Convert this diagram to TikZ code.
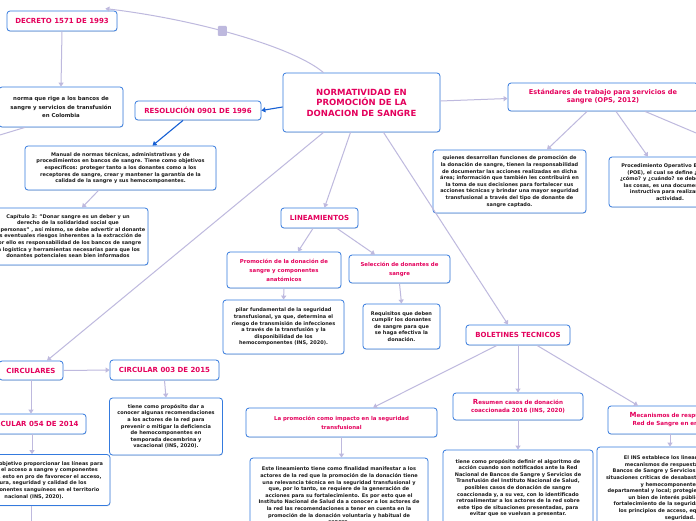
\documentclass[tikz,border=0pt]{standalone}
\usepackage{fontspec}
\setmainfont{DejaVu Sans}
\usetikzlibrary{positioning,arrows.meta,shadows}

\definecolor{borde}{RGB}{52,122,222}
\definecolor{conector}{RGB}{190,185,222}
\definecolor{titulo}{RGB}{228,0,92}
\definecolor{azul}{RGB}{22,96,212}
\definecolor{cuerpo}{RGB}{28,28,28}

\begin{document}
\begin{tikzpicture}[x=1pt,y=-1pt,
	caja/.style={draw=borde,line width=0.8pt,rounded corners=3pt,fill=white,align=center,inner sep=1pt,
		drop shadow={shadow xshift=0.4pt,shadow yshift=-0.8pt,opacity=0.2}},
	tema/.style={caja,text=titulo,font=\bfseries\fontsize{7}{8.5}\selectfont},
	grande/.style={caja,text=titulo,font=\bfseries\fontsize{8.5}{10.5}\selectfont},
	subt/.style={caja,text=titulo,font=\bfseries\fontsize{5.4}{9}\selectfont},
	texto/.style={caja,text=cuerpo,font=\bfseries\fontsize{5}{6.6}\selectfont},
	enlace/.style={draw=conector,line width=1pt,-{Triangle[width=5pt,length=4pt]}},
	enlaceazul/.style={draw=azul,line width=1.1pt,-{Triangle[width=5pt,length=4pt]}}]
	\useasboundingbox (0,0) rectangle (696,520);
	\fill[white] (0,0) rectangle (696,520);
	\begin{scope}
	\clip (0,0) rectangle (696,520);

	% centro
	\node[grande, minimum width=157pt, minimum height=59pt] (principal) at (361.5,102.5) {NORMATIVIDAD EN\\PROMOCIÓN DE LA\\DONACION DE SANGRE};

	% rama izquierda
	\node[tema, minimum width=110pt, minimum height=20pt] (decreto) at (62,21) {DECRETO 1571 DE 1993};
	\node[texto, font=\bfseries\fontsize{5.4}{8.7}\selectfont, minimum width=124pt, minimum height=40pt] (norma) at (61,107) {norma que rige a los bancos de\\sangre y servicios de transfusión\\en Colombia};
	\node[tema, minimum width=126pt, minimum height=19pt] (resolucion) at (198,110.5) {RESOLUCIÓN 0901 DE 1996};
	\node[texto, minimum width=191pt, minimum height=44pt] (manual) at (120.5,168) {Manual de normas técnicas, administrativas y de\\procedimientos en bancos de sangre. Tiene como objetivos\\específicos: proteger tanto a los donantes como a los\\receptores de sangre, crear y mantener la garantía de la\\calidad de la sangre y sus hemocomponentes.};
	\node[texto, minimum width=160pt, minimum height=57pt] (capitulo) at (68,236.5) {Capítulo 3: "Donar sangre es un deber y un\\derecho de la solidaridad social que\\las personas" , así mismo, se debe advertir al donante\\los eventuales riesgos inherentes a la extracción de\\por ello es responsabilidad de los bancos de sangre\\la logística y herramientas necesarias para que los\\donantes potenciales sean bien informados};

	% lineamientos
	\node[tema, minimum width=77pt, minimum height=20pt] (lineamientos) at (319.5,218) {LINEAMIENTOS};
	\node[subt, minimum width=114pt, minimum height=36pt] (promocion) at (284,270) {Promoción de la donación de\\sangre y componentes\\anatómicos};
	\node[subt, minimum width=101pt, minimum height=28pt] (seleccion) at (399.5,269) {Selección de donantes de\\sangre};
	\node[texto, minimum width=121pt, minimum height=54pt] (pilar) at (283.5,327) {pilar fundamental de la seguridad\\transfusional, ya que, determina el\\riesgo de transmisión de infecciones\\a través de la transfusión y la\\disponibilidad de los\\hemocomponentes (INS, 2020).};
	\node[texto, minimum width=77pt, minimum height=45pt] (requisitos) at (401.5,326.5) {Requisitos que deben\\cumplir los donantes\\de sangre para que\\se haga efectiva la\\donación.};

	% estandares
	\node[caja, text=titulo, font=\bfseries\fontsize{6.6}{8}\selectfont, minimum width=190pt, minimum height=28pt] (estandares) at (603,97) {Estándares de trabajo para servicios de\\sangre (OPS, 2012)};
	\node[texto, minimum width=153pt, minimum height=63pt] (quienes) at (509.5,181.5) {quienes desarrollan funciones de promoción de\\la donación de sangre, tienen la responsabilidad\\de documentar las acciones realizadas en dicha\\área; información que también les contribuirá en\\la toma de sus decisiones para fortalecer sus\\acciones técnicas y brindar una mayor seguridad\\transfusional a través del tipo de donante de\\sangre captado.};
	\node[texto, minimum width=122pt, minimum height=50pt] (poe) at (670,182) {Procedimiento Operativo Estándar\\(POE), el cual se define ¿qué?,\\¿cómo? y ¿cuándo? se deben hacer\\las cosas, es una documentación\\instructiva para realizar una\\actividad.};

	% circulares
	\node[tema, minimum width=64pt, minimum height=19pt] (circulares) at (31,370.5) {CIRCULARES};
	\node[tema, minimum width=109pt, minimum height=20pt] (circ003) at (164.5,370) {CIRCULAR 003 DE 2015};
	\node[texto, minimum width=113pt, minimum height=57pt] (tiene003) at (166,426.5) {tiene como propósito dar a\\conocer algunas recomendaciones\\a los actores de la red para\\prevenir o mitigar la deficiencia\\de hemocomponentes en\\temporada decembrina y\\vacacional (INS, 2020).};
	\node[tema, minimum width=106pt, minimum height=20pt] (circ054) at (33,424) {CIRCULAR 054 DE 2014};
	\node[texto, minimum width=152pt, minimum height=51pt] (objetivo) at (34,480) {Tiene como objetivo proporcionar las líneas para\\garantizar el acceso a sangre y componentes\\anatómicos, esto en pro de favorecer el acceso,\\cobertura, seguridad y calidad de los\\hemocomponentes sanguíneos en el territorio\\nacional (INS, 2020).};

	% boletines
	\node[tema, minimum width=104pt, minimum height=20pt] (boletines) at (518,335) {BOLETINES TECNICOS};
	\node[subt, minimum width=191pt, minimum height=29pt] (lapromocion) at (341.5,422.5) {La promoción como impacto en la seguridad\\transfusional};
	\node[texto, minimum width=178pt, minimum height=76pt] (este) at (339,496) {Este lineamiento tiene como finalidad manifestar a los\\actores de la red que la promoción de la donación tiene\\una relevancia técnica en la seguridad transfusional y\\que, por lo tanto, se requiere de la generación de\\acciones para su fortalecimiento. Es por esto que el\\Instituto Nacional de Salud da a conocer a los actores de\\la red las recomendaciones a tener en cuenta en la\\promoción de la donación voluntaria y habitual de\\sangre.};
	\node[subt, font=\bfseries\fontsize{5.6}{8}\selectfont, minimum width=130pt, minimum height=27pt] (resumen) at (518,406.5) {{\fontsize{7}{8}\selectfont R}esumen casos de donación\\coaccionada 2016 (INS, 2020)};
	\node[texto, minimum width=150pt, minimum height=76pt] (tieneres) at (518,488) {tiene como propósito definir el algoritmo de\\acción cuando son notificados ante la Red\\Nacional de Bancos de Sangre y Servicios de\\Transfusión del Instituto Nacional de Salud,\\posibles casos de donación de sangre\\coaccionada y, a su vez, con lo identificado\\retroalimentar a los actores de la red sobre\\este tipo de situaciones presentadas, para\\evitar que se vuelvan a presentar.};
	\node[subt, font=\bfseries\fontsize{5.6}{8}\selectfont, minimum width=144pt, minimum height=28pt] (mecanismos) at (680,420) {{\fontsize{7}{8}\selectfont M}ecanismos de respuesta de la\\Red de Sangre en emergencia};
	\node[texto, minimum width=166pt, minimum height=82pt] (elins) at (680,488) {El INS establece los lineamientos de los\\mecanismos de respuesta de la Red de\\Bancos de Sangre y Servicios de Transfusión en\\situaciones críticas de desabastecimiento de sangre\\y hemocomponentes a nivel\\departamental y local; protegiendo la sangre como\\un bien de interés público social y el\\fortalecimiento de la seguridad transfusional y\\los principios de acceso, equidad, calidad y\\seguridad.};

	% ramas que salen del cuadro
	\coordinate (fueraA) at (-30,144);
	\coordinate (fueraB) at (760,160);
	\coordinate (fueraC) at (31,540);

	% conectores
	\draw[enlace] ([xshift=-38pt]principal.north) .. controls (295,48) and (200,20) .. ([xshift=-12pt,yshift=2pt]decreto.north east)
		node[pos=0.57, fill=conector, rounded corners=1pt, minimum width=9pt, minimum height=10pt, inner sep=0pt] (asa) {};
	\draw[enlace] (decreto.south) -- (norma.north);
	\draw[draw=conector, line width=1pt] ([xshift=-36pt]norma.south) -- (fueraA);
	\draw[enlaceazul] ([yshift=-4.5pt]principal.west) -- (resolucion.east);
	\draw[enlaceazul] ([xshift=-15pt]resolucion.south) -- ([xshift=32pt]manual.north);
	\draw[enlace] ([xshift=-22pt]manual.south) -- ([xshift=14pt]capitulo.north);

	\draw[enlace] ([xshift=-38pt]principal.south) -- ([xshift=16pt]circulares.north);
	\draw[enlace] ([xshift=-11pt]principal.south) -- ([xshift=5pt]lineamientos.north);
	\draw[enlace] ([xshift=22pt]principal.south) -- ([xshift=-10pt]boletines.north);
	\draw[enlace] ([yshift=1.5pt]principal.east) -- ([yshift=-1.5pt]estandares.west);

	\draw[enlace] ([xshift=-16pt]estandares.south) -- ([xshift=37.5pt]quienes.north);
	\draw[enlace] ([xshift=13pt]estandares.south) -- ([xshift=-22pt]poe.north);
	\draw[draw=conector, line width=1pt] ([xshift=42pt]estandares.south) -- (fueraB);

	\draw[enlace] ([xshift=-6.5pt]lineamientos.south) -- ([xshift=14pt]promocion.north);
	\draw[enlace] ([xshift=17.5pt]lineamientos.south) -- ([xshift=-24.5pt]seleccion.north);
	\draw[enlace] (promocion.south) -- (pilar.north);
	\draw[enlace] (seleccion.south) -- (requisitos.north);

	\draw[enlace] (circulares.east) -- (circ003.west);
	\draw[enlace] (circulares.south) -- (circulares.south |- circ054.north);
	\draw[enlace] (circ003.south) -- (tiene003.north);
	\draw[enlace] ([xshift=-1pt]circ054.south) -- ([xshift=-2pt]objetivo.north);
	\draw[enlace] ([xshift=-3pt]objetivo.south) -- (fueraC);

	\draw[enlace] ([xshift=-21pt]boletines.south) -- ([xshift=31.5pt]lapromocion.north);
	\draw[enlace] (boletines.south) -- (resumen.north);
	\draw[enlace] ([xshift=19pt]boletines.south) -- ([xshift=-42pt]mecanismos.north);
	\draw[enlace] (lapromocion.south) -- (lapromocion.south |- este.north);
	\draw[enlace] (resumen.south) -- (tieneres.north);
	\draw[enlace] ([xshift=-10pt]mecanismos.south) -- ([xshift=-10pt]elins.north);
	\end{scope}
\end{tikzpicture}
\end{document}
